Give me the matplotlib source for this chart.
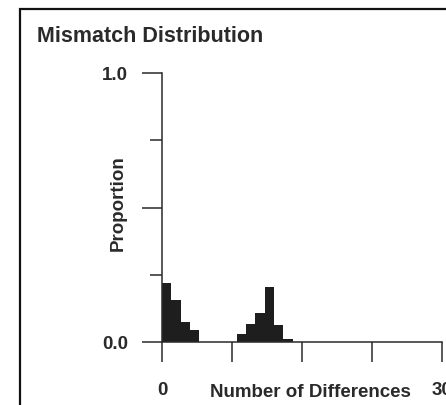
import matplotlib
matplotlib.use("Agg")
import matplotlib.pyplot as plt
from matplotlib.patches import Rectangle

# Data
differences = [0, 1, 2, 3, 8, 9, 10, 11, 12, 13]
proportions = [0.220, 0.155, 0.074, 0.046, 0.031, 0.066, 0.106, 0.206, 0.063, 0.011]
x_ticks = [0, 7.5, 15, 22.5, 30]
x_tick_labels = ["0", "", "", "", "30"]
y_ticks = [0.0, 0.5, 1.0]
y_tick_labels = ["0.0", "", "1.0"]
y_minor = [0.25, 0.75]

W, H = 446, 406
plt.rcParams['font.family'] = ['Liberation Sans', 'DejaVu Sans']
fig = plt.figure(figsize=(W / 100, H / 100), dpi=100)
fig.patch.set_facecolor('white')

# outer frame (left and top edges visible, others run off the picture)
top = 1 - 10 / H
fig.patches.append(Rectangle((20 / W, -0.2), 1.2, top + 0.2, transform=fig.transFigure,
                             fill=False, edgecolor='#111111', linewidth=1.6))

ax = fig.add_axes([162 / W, 1 - 343 / H, 280 / W, 269 / H])
ink = '#2a2a2a'
ax.bar(differences, proportions, width=1.0, align='edge', color='#1e1e1e', edgecolor='none')
ax.set_xlim(0, 30)
ax.set_ylim(0, 1)
for s in ['top', 'right']:
    ax.spines[s].set_visible(False)
for s in ['left', 'bottom']:
    ax.spines[s].set_color(ink)
    ax.spines[s].set_linewidth(1.1)

fs = 13.5
ax.set_xticks(x_ticks)
ax.set_xticklabels(x_tick_labels)
ax.set_yticks(y_ticks)
ax.set_yticklabels(y_tick_labels)
ax.set_yticks(y_minor, minor=True)
ax.tick_params(axis='x', direction='out', length=14.4, width=1.1, color=ink, pad=14,
               labelsize=fs, labelcolor=ink)
ax.tick_params(axis='y', which='major', direction='out', length=14.4, width=1.1, color=ink, pad=10,
               labelsize=fs, labelcolor=ink)
ax.tick_params(axis='y', which='minor', direction='out', length=8.6, width=1.1, color=ink)
for lab in ax.get_xticklabels() + ax.get_yticklabels():
    lab.set_fontweight('bold')

ax.text((310 - 162) / 280, (343 - 397) / 269, "Number of Differences", transform=ax.transAxes,
        ha='center', va='baseline', fontsize=fs, fontweight='bold', color=ink)
ax.text((118 - 162) / 280, (343 - 203) / 269, "Proportion", transform=ax.transAxes,
        ha='center', va='center', rotation=90, fontsize=fs, fontweight='bold', color=ink)

fig.text(37 / W, 1 - 42 / H, "Mismatch Distribution", ha='left', va='baseline',
         fontsize=15.5, fontweight='bold', color=ink)

fig.savefig("out.png", dpi=100)
